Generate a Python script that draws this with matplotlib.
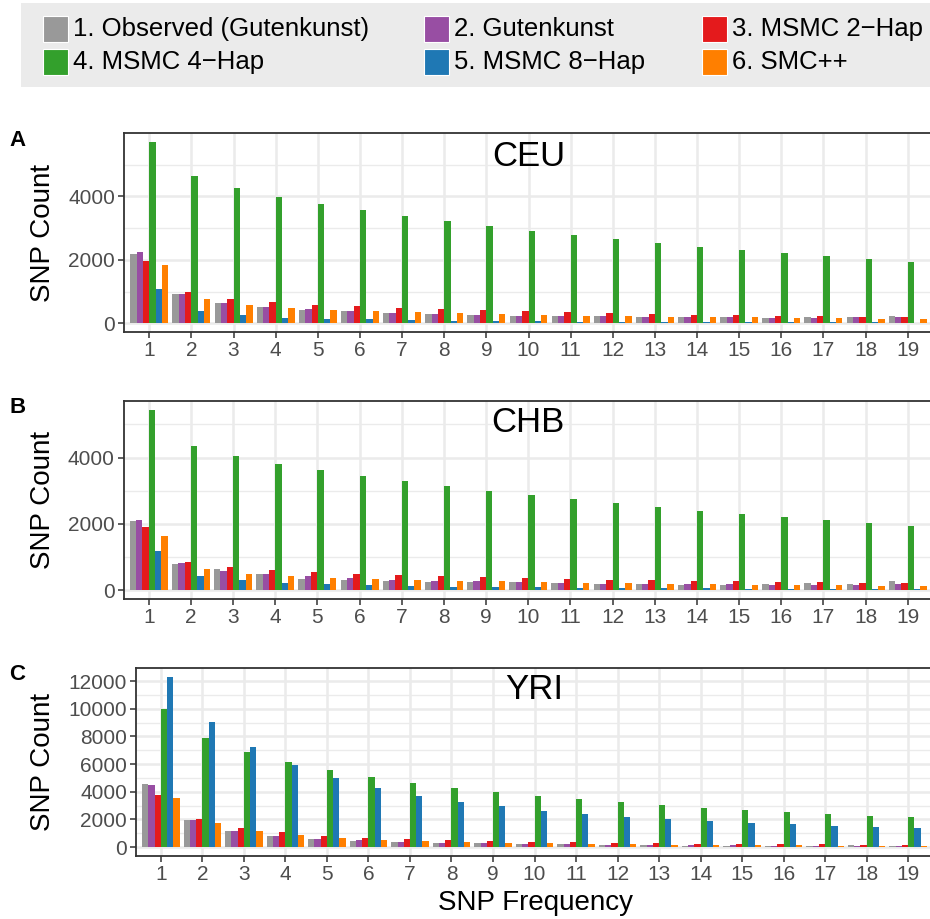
import numpy as np
import matplotlib
matplotlib.use("Agg")
import matplotlib.pyplot as plt
from matplotlib.patches import Rectangle

plt.rcParams['font.family'] = ['Liberation Sans', 'DejaVu Sans']

freqs = list(range(1, 20))
series_names = ["1. Observed (Gutenkunst)", "2. Gutenkunst", "3. MSMC 2\u2212Hap",
                "4. MSMC 4\u2212Hap", "5. MSMC 8\u2212Hap", "6. SMC++"]
colors = ["#999999", "#984EA3", "#E41A1C", "#33A02C", "#1F78B4", "#FF7F00"]

ceu_obs = [2180, 937, 646, 510, 427, 375, 333, 302, 260, 240, 229, 219, 208, 198, 188, 177, 188, 208, 229]
ceu_gut = [2260, 917, 646, 520, 437, 375, 333, 302, 260, 240, 229, 219, 208, 198, 188, 177, 167, 188, 198]
ceu_msmc2 = [1958, 990, 760, 656, 583, 531, 479, 437, 406, 375, 344, 323, 302, 271, 260, 240, 229, 208, 198]
ceu_msmc4 = [5700, 4625, 4260, 3980, 3760, 3573, 3385, 3219, 3063, 2917, 2781, 2656, 2531, 2417, 2302, 2208, 2115, 2010, 1927]
ceu_msmc8 = [1083, 396, 250, 177, 146, 125, 104, 83, 73, 62, 52, 45, 40, 36, 32, 29, 26, 24, 22]
ceu_smc = [1833, 750, 562, 479, 417, 375, 344, 312, 281, 260, 240, 219, 208, 198, 188, 167, 156, 146, 146]

chb_obs = [2084, 798, 628, 489, 349, 309, 269, 259, 249, 239, 219, 199, 179, 160, 150, 189, 219, 179, 269]
chb_gut = [2114, 808, 588, 479, 419, 359, 319, 289, 269, 239, 219, 199, 199, 179, 179, 160, 160, 170, 189]
chb_msmc2 = [1914, 867, 688, 608, 538, 499, 459, 419, 389, 359, 339, 319, 299, 279, 269, 249, 239, 229, 209]
chb_msmc4 = [5444, 4347, 4038, 3819, 3629, 3450, 3290, 3141, 2991, 2861, 2742, 2622, 2512, 2393, 2303, 2203, 2114, 2034, 1944]
chb_msmc8 = [1196, 419, 299, 229, 189, 160, 130, 110, 100, 90, 80, 70, 62, 55, 50, 45, 40, 36, 33]
chb_smc = [1645, 638, 489, 419, 369, 339, 309, 289, 269, 249, 229, 209, 199, 179, 170, 160, 150, 140, 130]

yri_obs = [4574, 1988, 1198, 838, 599, 455, 407, 335, 311, 263, 240, 192, 144, 120, 120, 120, 120, 144, 96]
yri_gut = [4479, 1988, 1198, 838, 623, 503, 407, 335, 311, 263, 240, 192, 168, 144, 144, 120, 120, 100, 96]
yri_msmc2 = [3784, 2036, 1413, 1078, 838, 695, 599, 503, 431, 383, 359, 311, 287, 263, 240, 240, 216, 192, 192]
yri_msmc4 = [10011, 7904, 6874, 6131, 5556, 5077, 4646, 4311, 4000, 3712, 3473, 3233, 3042, 2850, 2682, 2539, 2419, 2275, 2156]
yri_msmc8 = [12334, 9077, 7233, 5940, 5006, 4287, 3712, 3281, 2946, 2634, 2419, 2203, 2036, 1868, 1748, 1653, 1533, 1461, 1365]
yri_smc = [3569, 1748, 1174, 862, 695, 551, 455, 383, 287, 287, 263, 216, 192, 192, 144, 144, 120, 96, 72]

panels = [
    ("A", "CEU", [ceu_obs, ceu_gut, ceu_msmc2, ceu_msmc4, ceu_msmc8, ceu_smc], [0, 2000, 4000]),
    ("B", "CHB", [chb_obs, chb_gut, chb_msmc2, chb_msmc4, chb_msmc8, chb_smc], [0, 2000, 4000]),
    ("C", "YRI", [yri_obs, yri_gut, yri_msmc2, yri_msmc4, yri_msmc8, yri_smc],
     [0, 2000, 4000, 6000, 8000, 10000, 12000]),
]

W, H = 930, 919
fig = plt.figure(figsize=(W / 100, H / 100), dpi=100)

def fx(px):
    return px / W

def fy(py):
    return 1 - py / H

# axes boxes in pixels: left, top, right, bottom
boxes = [(124, 133.3, 933, 332.3), (123.5, 400.7, 933, 599.3), (136, 668, 933, 855.7)]
letter_y = [141, 408, 675]
title_y = [0.885, 0.89, 0.885]

border = "#333333"
grid_c = "#EBEBEB"
tick_c = "#4D4D4D"

x = np.array(freqs, dtype=float)
bw = 0.15
for (letter, pop, series, yt), (l, t, r, b), ly, ty in zip(panels, boxes, letter_y, title_y):
    ax = fig.add_axes([fx(l), fy(b), fx(r) - fx(l), (b - t) / H])
    ax.set_facecolor("white")
    ymax = max(max(s) for s in series)
    ax.set_xlim(0.4, 19.6)
    ax.set_ylim(-0.05 * ymax, 1.05 * ymax)
    # grid
    minor = [v + 1000 for v in yt if v + 1000 < 1.05 * ymax]
    for v in minor:
        ax.axhline(v, color=grid_c, lw=1.0, zorder=0)
    for v in yt:
        ax.axhline(v, color=grid_c, lw=1.8, zorder=0)
    for xv in freqs:
        ax.axvline(xv, color=grid_c, lw=1.8, zorder=0)
    for i, (s, c) in enumerate(zip(series, colors)):
        ax.bar(x + (i - 2.5) * bw, s, width=bw, color=c, linewidth=0, zorder=2)
    ax.set_xticks(freqs)
    ax.set_xticklabels([str(f) for f in freqs])
    ax.set_yticks(yt)
    ax.set_yticklabels([str(v) for v in yt])
    ax.tick_params(axis="both", colors=border, labelcolor=tick_c, labelsize=15,
                   length=4.5, width=1.1, pad=2)
    for sp in ax.spines.values():
        sp.set_color(border)
        sp.set_linewidth(1.3)
    ax.text(10, ty, pop, transform=ax.get_xaxis_transform(),
            fontsize=25, ha="center", va="center", color="black")
    fig.text(fx(42.5), fy((t + b) / 2), "SNP Count", rotation=90, fontsize=20,
             ha="center", va="center", color="black")
    fig.text(fx(9), fy(ly), letter, fontsize=16, fontweight="bold", ha="left",
             va="center", color="black")

fig.text(fx(535), fy(903), "SNP Frequency", fontsize=20, ha="center", va="center",
         color="black")

# legend
fig.patches.append(Rectangle((fx(21), fy(87)), fx(940) - fx(21), (87 - 3) / H,
                             transform=fig.transFigure, facecolor="#EBEBEB",
                             edgecolor="none", zorder=0))
col_key_x = [43, 424, 702]
row_y = [29, 62]
for i, (name, c) in enumerate(zip(series_names, colors)):
    row, col = divmod(i, 3)
    kx = col_key_x[col]
    cy = row_y[row]
    fig.patches.append(Rectangle((fx(kx), fy(cy + 13)), 25 / W, 26 / H,
                                 transform=fig.transFigure, facecolor=c,
                                 edgecolor="white", linewidth=0.8, zorder=1))
    fig.text(fx(kx + 30), fy(cy), name, fontsize=18.5, ha="left", va="center",
             color="black")

fig.savefig("out.png", dpi=100, facecolor="white")
